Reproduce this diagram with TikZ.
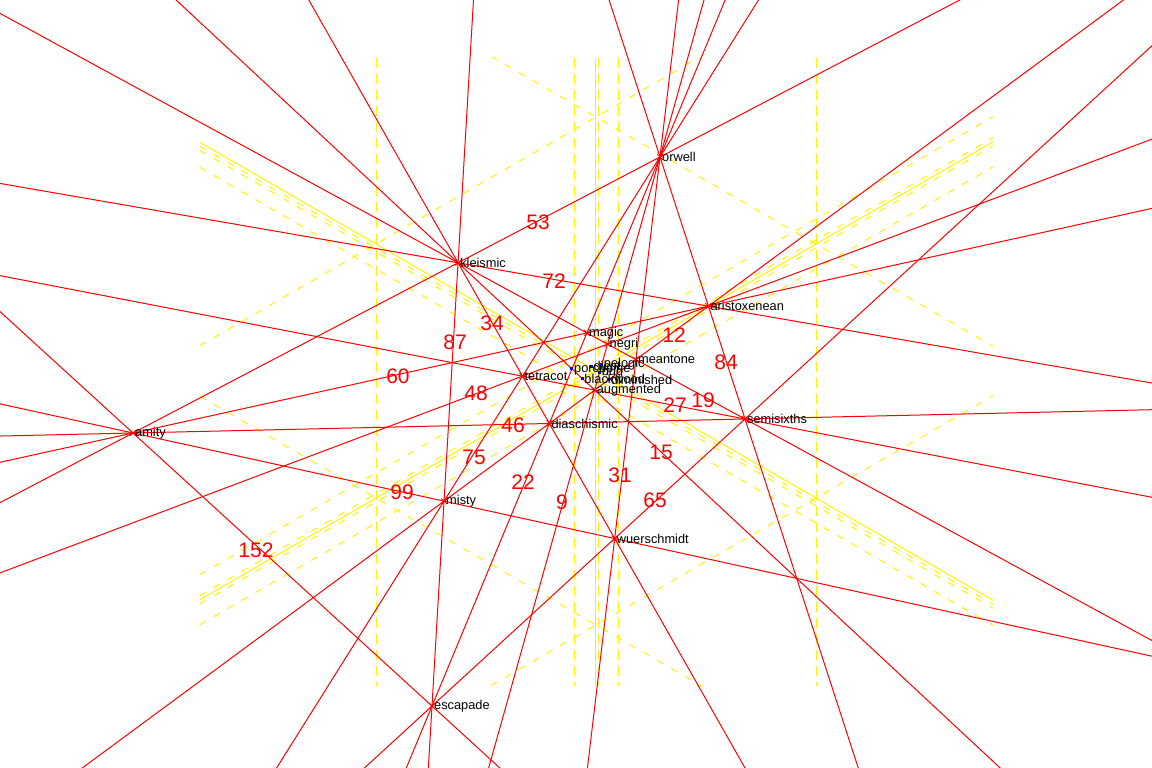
\documentclass[tikz,border=0pt]{standalone}
\usepackage{fontspec}
\setmainfont{Liberation Sans}
\usetikzlibrary{shapes.misc}
% point of a 5-limit temperament from its steps in 22, 152 and 53 equal
\newcommand\tmpt[4]{%
 \pgfmathsetmacro\tmW{-0.23499*(#2)+0.378245*(#3)+0.71349*(#4)}%
 \pgfmathsetmacro\tmX{(-31.2537*(#2)+249.6417*(#3)+308.2277*(#4))/\tmW}%
 \pgfmathsetmacro\tmY{(-101.7507*(#2)+59.3845*(#3)+503.7239*(#4))/\tmW}%
 \coordinate (#1) at (\tmX,\tmY);}
\begin{document}
\begin{tikzpicture}[x=1pt,y=-1pt,
  ysolid/.style={yellow,line width=1pt},
  ydash/.style={yellow,line width=1pt,dash pattern=on 10pt off 6pt},
  ydiag/.style={yellow,line width=1pt,dash pattern=on 7pt off 9pt},
  etline/.style={red,line width=1pt,shorten <=-2500pt,shorten >=-2500pt},
  tmark/.style={draw=red,cross out,line width=0.8pt,minimum size=5pt,inner sep=0pt},
  bmark/.style={fill=blue,inner sep=0pt,minimum size=3pt},
  tname/.style={anchor=west,inner sep=1pt,font=\fontsize{12.8}{14}\selectfont,text=black},
  etnum/.style={font=\fontsize{21}{24}\selectfont,text=red,inner sep=0pt}]
\useasboundingbox[fill=white] (0,0) rectangle (1152,768);

% temperaments
\tmpt{amity}{-2}{0}{0}
\tmpt{orwell}{0}{2}{0}
\tmpt{escapade}{0}{0}{1}
\tmpt{kleismic}{-1}{1}{0}
\tmpt{aristoxenean}{2}{4}{1}
\tmpt{meantone}{1}{3}{1}
\tmpt{augmented}{1}{5}{2}
\tmpt{diaschismic}{0}{2}{1}
\tmpt{tetracot}{-1}{3}{1}
\tmpt{magic}{0}{4}{1}
\tmpt{negri}{1}{7}{2}
\tmpt{semisixths}{2}{2}{1}
\tmpt{misty}{-1}{1}{1}
\tmpt{wuerschmidt}{1}{1}{1}
\tmpt{dicot}{1}{9}{3}
\tmpt{porcupine}{0}{3}{1}
\tmpt{blackwood}{1}{11}{4}
\tmpt{diminished}{2}{8}{3}
\tmpt{pelogic}{1}{6}{2}
\tmpt{bug}{3}{17}{6}

% yellow hexagram
\begin{scope}
\clip (200,58) rectangle (993,686);
\foreach \dx in {-220,-22,22,220} \draw[ydash] (596+\dx,58) -- (596+\dx,686);
\draw[ysolid] (595,58) -- (595,686);
\draw[ydash] (598,58) -- (598,686);
% +30 degree family
\foreach \yc in {117,396,625} \draw[ydiag] (200,\yc-228.6) -- (993,\yc+229.2);
\foreach \yc/\st in {371/ysolid,375/ydiag,379/ydiag} \draw[\st] (200,\yc-228.6) -- (993,\yc+229.2);
% -30 degree family
\foreach \yc in {117,346,396,625} \draw[ydiag] (200,\yc+228.6) -- (993,\yc-229.2);
\foreach \yc/\st in {371/ysolid,367/ydiag,375/ydiag} \draw[\st] (200,\yc+228.6) -- (993,\yc-229.2);
\end{scope}

% equal temperaments
\begin{scope}
\clip (0,0) rectangle (1152,768);
\draw[etline] (orwell) -- (augmented);
\draw[etline] (aristoxenean) -- (misty);
\draw[etline] (kleismic) -- (augmented);
\draw[etline] (kleismic) -- (semisixths);
\draw[etline] (orwell) -- (escapade);
\draw[etline] (tetracot) -- (semisixths);
\draw[etline] (orwell) -- (wuerschmidt);
\draw[etline] (kleismic) -- (wuerschmidt);
\draw[etline] (amity) -- (semisixths);
\draw[etline] (tetracot) -- (aristoxenean);
\draw[etline] (amity) -- (orwell);
\draw[etline] (amity) -- (aristoxenean);
\draw[etline] (escapade) -- (semisixths);
\draw[etline] (kleismic) -- (aristoxenean);
\draw[etline] (orwell) -- (misty);
\draw[etline] (orwell) -- (semisixths);
\draw[etline] (kleismic) -- (escapade);
\draw[etline] (amity) -- (wuerschmidt);
\draw[etline] (amity) -- (escapade);
\end{scope}

% ET numbers
\node[etnum] (n53) at (538,222) {53};
\node[etnum] (n72) at (554,281) {72};
\node[etnum] (n34) at (492,323) {34};
\node[etnum] (n87) at (455,342) {87};
\node[etnum] (n60) at (398,376) {60};
\node[etnum] (n48) at (476,393) {48};
\node[etnum] (n46) at (513,425) {46};
\node[etnum] (n75) at (474,457) {75};
\node[etnum] (n22) at (523,482) {22};
\node[etnum] (n9) at (562,502) {9};
\node[etnum] (n31) at (620,475) {31};
\node[etnum] (n15) at (661,452) {15};
\node[etnum] (n65) at (655,500) {65};
\node[etnum] (n27) at (675,405) {27};
\node[etnum] (n19) at (703,400) {19};
\node[etnum] (n12) at (674,335) {12};
\node[etnum] (n84) at (726,362) {84};
\node[etnum] (n99) at (402,492) {99};
\node[etnum] (n152) at (256,550) {152};

% marks and names
\foreach \p in {amity,orwell,escapade,kleismic,aristoxenean,meantone,augmented,diaschismic,tetracot,magic,negri,semisixths,misty,wuerschmidt}
  \node[tmark] (m-\p) at (\p) {};
\foreach \p in {dicot,porcupine,blackwood,diminished,pelogic,bug}
  \node[bmark] (m-\p) at (\p) {};
\foreach \p in {amity,orwell,escapade,kleismic,aristoxenean,meantone,augmented,diaschismic,tetracot,magic,negri,semisixths,misty,wuerschmidt,dicot,porcupine,blackwood,diminished,pelogic,bug}
  \node[tname] (t-\p) at ([xshift=1pt]\p) {\p};
\end{tikzpicture}
\end{document}
